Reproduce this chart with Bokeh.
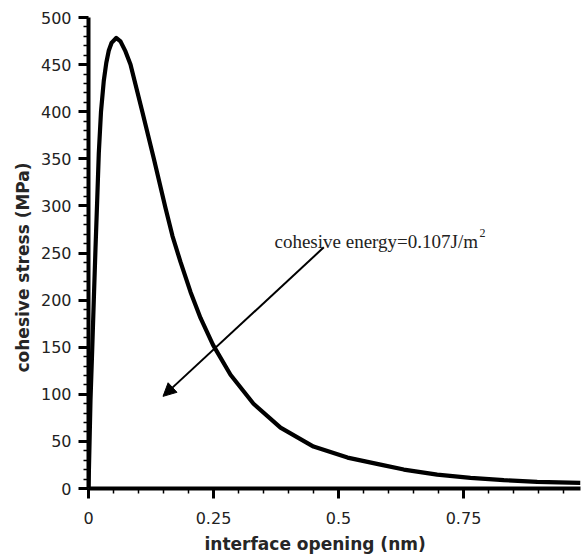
from bokeh.plotting import figure
from bokeh.models import Range1d, FixedTicker, Label, Arrow, NormalHead, NumeralTickFormatter, Title
from bokeh.embed import file_html
from bokeh.resources import INLINE

# ---- data ----
opening_nm = [0, 0.004, 0.0074, 0.0106, 0.014, 0.0174, 0.0206, 0.025, 0.0306, 0.0356,
              0.0406, 0.046, 0.0554, 0.064, 0.074, 0.084, 0.1074, 0.1306, 0.154, 0.168,
              0.184, 0.204, 0.224, 0.249, 0.284, 0.33, 0.384, 0.45, 0.518, 0.584,
              0.6306, 0.6974, 0.764, 0.8306, 0.8974, 0.984]
stress_mpa = [0, 94, 147, 200, 255, 306, 356, 400, 433, 452,
              465, 473, 478.3, 474.6, 464, 450.2, 400.4, 350.3, 297.7, 268,
              240.5, 208.7, 181.1, 152.5, 120.8, 90, 64.6, 44.5, 32.8, 25.4,
              20.1, 14.8, 11.3, 8.8, 7.1, 6.0]

x_major = [0, 0.25, 0.5, 0.75]
x_minor = [0.05, 0.1, 0.15, 0.2, 0.3, 0.35, 0.4, 0.45, 0.55, 0.6, 0.65, 0.7, 0.8, 0.85, 0.9, 0.95]
y_major = [0, 50, 100, 150, 200, 250, 300, 350, 400, 450, 500]
y_minor = [10, 20, 30, 40, 60, 70, 80, 90, 110, 120, 130, 140, 160, 170, 180, 190,
           210, 220, 230, 240, 260, 270, 280, 290, 310, 320, 330, 340, 360, 370, 380, 390,
           410, 420, 430, 440, 460, 470, 480, 490]

annotation_text = "cohesive energy=0.107J/m"
annotation_sup = "2"
arrow_from = (0.4706, 256.0)
arrow_to = (0.149, 97.8)
x_title = "interface opening (nm)"
y_title = "cohesive stress (MPa)"

SANS = "DejaVu Sans"

p = figure(width=581, height=558, x_range=Range1d(0, 0.984), y_range=Range1d(0, 500),
           output_backend="svg", toolbar_location=None,
           min_border_left=88, min_border_right=1, min_border_top=17, min_border_bottom=69)
p.grid.visible = False
p.outline_line_color = None
p.background_fill_color = "white"
p.border_fill_color = "white"

p.line(opening_nm, stress_mpa, line_color="black", line_width=4.2, line_join="round")

for ax in (p.xaxis[0], p.yaxis[0]):
    ax.axis_line_width = 4
    ax.axis_line_color = "black"
    ax.major_tick_line_width = 3
    ax.major_tick_line_color = "black"
    ax.major_tick_out = 10
    ax.major_tick_in = 0
    ax.minor_tick_line_width = 1.5
    ax.minor_tick_line_color = "black"
    ax.minor_tick_out = 5
    ax.minor_tick_in = 0
    ax.major_label_text_font = SANS
    ax.major_label_text_font_size = "16px"
    ax.major_label_text_color = "#222222"

p.xaxis.ticker = FixedTicker(ticks=x_major, minor_ticks=x_minor)
p.xaxis.formatter = NumeralTickFormatter(format="0.[00]")
p.xaxis.major_label_standoff = 13
p.yaxis.ticker = FixedTicker(ticks=y_major, minor_ticks=y_minor)
p.yaxis.major_label_standoff = 7

p.add_layout(Arrow(end=NormalHead(size=13, fill_color="black", line_color="black", line_width=1),
                   x_start=arrow_from[0], y_start=arrow_from[1],
                   x_end=arrow_to[0], y_end=arrow_to[1],
                   line_color="black", line_width=2))

p.add_layout(Label(x=0.372, y=262.4, text=annotation_text, text_font="Liberation Serif",
                   text_font_size="19px", text_color="#222222", text_baseline="alphabetic",
                   text_align="left"))
p.add_layout(Label(x=0.782, y=271.2, text=annotation_sup, text_font="Liberation Serif",
                   text_font_size="12px", text_color="#222222", text_baseline="alphabetic",
                   text_align="left"))

p.add_layout(Title(text=x_title, align="left", offset=116, standoff=10,
                   text_font=SANS, text_font_style="bold", text_font_size="17px",
                   text_color="#262626"), "below")
p.add_layout(Title(text=y_title, align="left", offset=116, standoff=10,
                   text_font=SANS, text_font_style="bold", text_font_size="17px",
                   text_color="#262626"), "left")

open("out.html", "w").write(file_html(p, INLINE))
